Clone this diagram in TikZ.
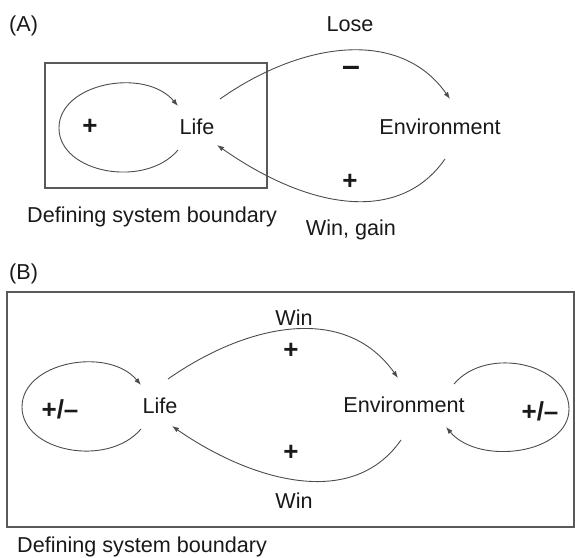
\documentclass[tikz,border=0pt]{standalone}
\usepackage{fontspec}
\setmainfont{Liberation Sans}
\usetikzlibrary{arrows.meta}
\definecolor{linegray}{gray}{0.3}
\definecolor{boxgray}{gray}{0.35}
\definecolor{textgray}{gray}{0.1}

\begin{document}
\begin{tikzpicture}[x=1pt, y=-1pt,
        lbl/.style={inner sep=0pt, text=textgray, font=\fontsize{21.6}{26}\selectfont},
        sign/.style={inner sep=0pt, text=textgray, font=\fontsize{26}{30}\selectfont\bfseries},
        loop/.style={draw=linegray, line width=0.9pt, -{Latex[length=7pt,width=5pt]}},
        boundary/.style={draw=boxgray, line width=1.4pt}]
        \useasboundingbox (0, 0) rectangle (575, 557);
        % (A): life inside the boundary
        \draw (9, 31) node[lbl, anchor=base west](tagA){(A)};
        \draw[boundary] (45, 63) rectangle (267, 188);
        \draw (197, 127) node[lbl](lifeA){Life};
        \draw (440, 127) node[lbl](envA){Environment};
        \draw (90, 127) node[sign](plusA){+};
        \draw (350, 31) node[lbl, anchor=base](lose){Lose};
        \draw (351, 71) node[sign, font=\fontsize{32}{36}\selectfont\bfseries](minusA){–};
        \draw (350, 182) node[sign](gainA){+};
        \draw (351, 235) node[lbl, anchor=base](wingain){Win, gain};
        \draw (27, 222) node[lbl, anchor=base west](bndA){Defining system boundary};
        \draw[loop] ([shift={(-19,23)}]lifeA.center) .. controls +(-33,39) and +(0,45) .. ([shift={(-138,1)}]lifeA.center)
            .. controls +(0,-45) and +(-33,-39) .. ([shift={(-19,-21)}]lifeA.center);
        \draw[loop] ([shift={(23,-28)}]lifeA.center) .. controls +(84,-59) and +(-49,-70) .. ([shift={(10,-28)}]envA.center);
        \draw[loop] ([shift={(5,32)}]envA.center) .. controls +(-46,66) and +(91,64) .. ([shift={(20,18)}]lifeA.center);
        % (B): life and environment together
        \draw (9, 279) node[lbl, anchor=base west](tagB){(B)};
        \draw[boundary] (7, 292) rectangle (574, 527);
        \draw (160, 406) node[lbl](lifeB){Life};
        \draw (404, 405) node[lbl](envB){Environment};
        \draw (60, 409) node[sign](pmLife){+/–};
        \draw (540, 411) node[sign](pmEnv){+/–};
        \draw (294, 325) node[lbl, anchor=base](winTop){Win};
        \draw (291, 351) node[sign](plusTop){+};
        \draw (291, 453) node[sign](plusBot){+};
        \draw (294, 508) node[lbl, anchor=base](winBot){Win};
        \draw (17, 552) node[lbl, anchor=base west](bndB){Defining system boundary};
        \draw[loop] ([shift={(-19,23)}]lifeB.center) .. controls +(-33,39) and +(0,45) .. ([shift={(-138,1)}]lifeB.center)
            .. controls +(0,-45) and +(-33,-39) .. ([shift={(-19,-21)}]lifeB.center);
        \draw[loop] ([shift={(50,-21)}]envB.center) .. controls +(33,-39) and +(0,-45) .. ([shift={(165,4)}]envB.center)
            .. controls +(0,45) and +(33,39) .. ([shift={(42,22)}]envB.center);
        \draw[loop] ([shift={(8,-27)}]lifeB.center) .. controls +(77,-54) and +(-54,-76) .. ([shift={(-6,-27)}]envB.center);
        \draw[loop] ([shift={(-3,35)}]envB.center) .. controls +(-51,73) and +(73,51) .. ([shift={(12,20)}]lifeB.center);
    \end{tikzpicture}
\end{document}
